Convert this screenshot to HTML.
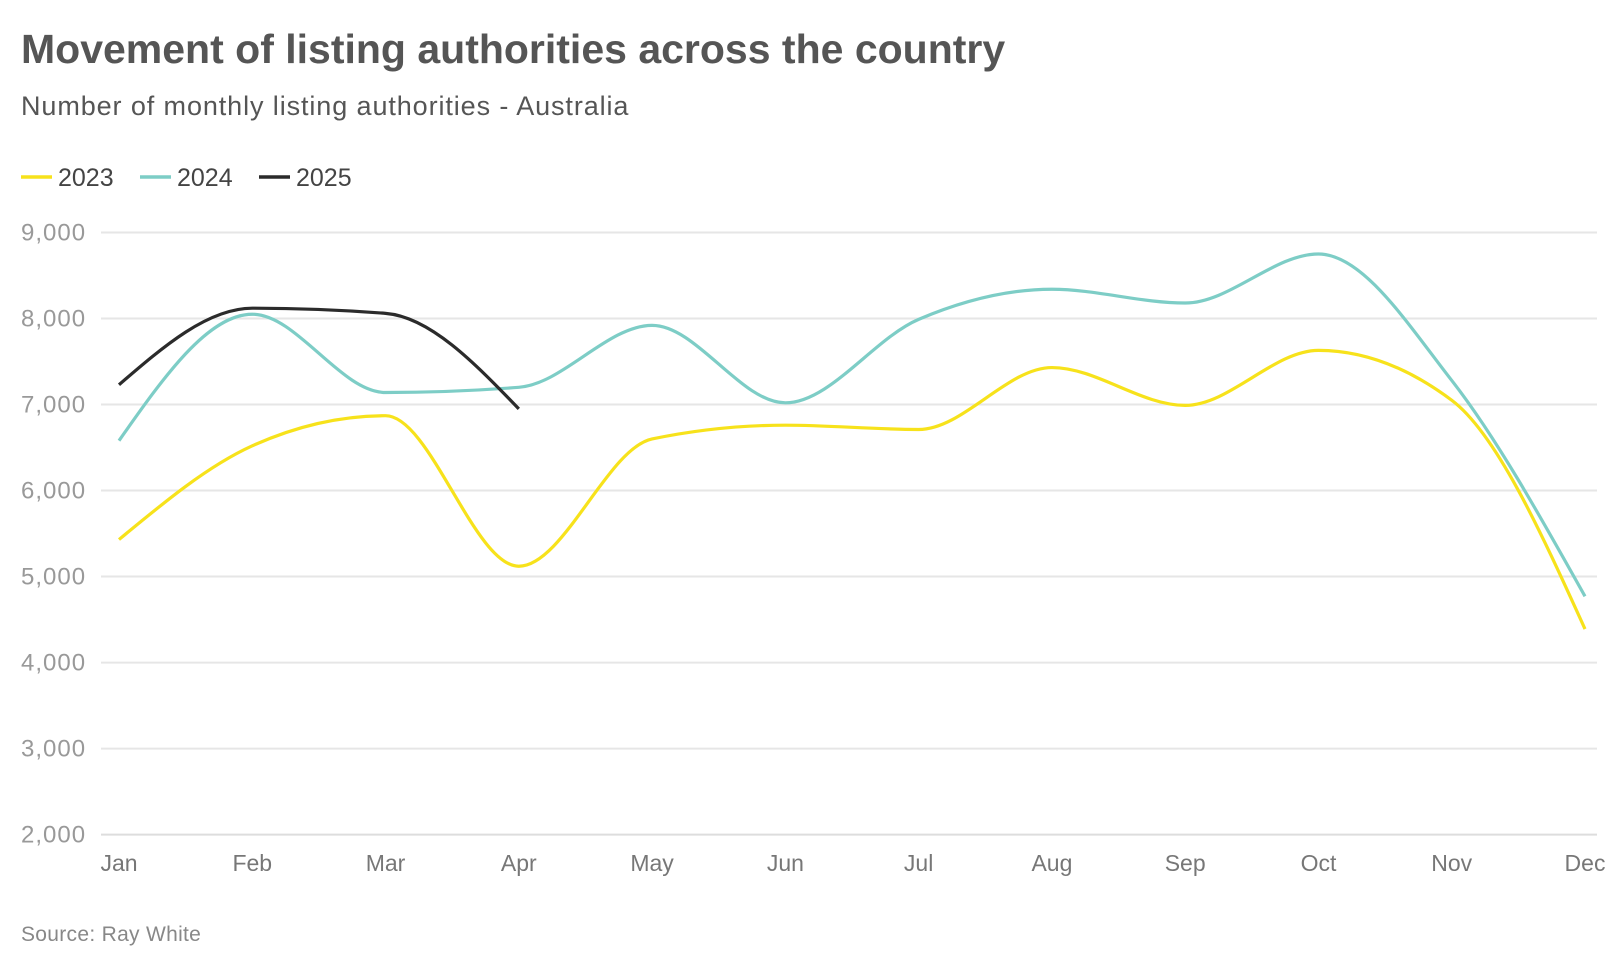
<!DOCTYPE html>
<html><head><meta charset="utf-8"><style>
body{margin:0;background:#fff;font-family:"Liberation Sans",sans-serif;}
#wrap{position:relative;width:1620px;height:962px;overflow:hidden;}
</style></head><body>
<div id="wrap">
<svg id="svg" width="1620" height="962">
<text x="21" y="63" font-size="41" font-weight="bold" fill="#555">Movement of listing authorities across the country</text>
<text x="21" y="115" font-size="27" letter-spacing="0.9" fill="#555">Number of monthly listing authorities - Australia</text>
<g id="legend"></g>
<g id="grid"></g>
<g id="lines"></g>
<text x="21" y="941" font-size="21" letter-spacing="0.3" fill="#888">Source: Ray White</text>
</svg>
</div>
<script>
const months=["Jan","Feb","Mar","Apr","May","Jun","Jul","Aug","Sep","Oct","Nov","Dec"];
const yTicks=[2000,3000,4000,5000,6000,7000,8000,9000];
const seriesNames=["2023","2024","2025"];
const s2023=[5430,6520,6870,5120,6600,6760,6710,7430,6990,7630,7050,4390];
const s2024=[6580,8050,7140,7200,7920,7020,7990,8340,8180,8750,7280,4770];
const s2025=[7230,8120,8060,6950];
const colors=["#f7e21b","#7dcdc6","#2b2b2b"];
const NS="http://www.w3.org/2000/svg";
const X0=119,X1=1585,Y0=834.6,Y1=232.5,YMIN=2000,YMAX=9000,GL=101,GR=1597;
const xs=i=>X0+(X1-X0)*i/11;
const ys=v=>Y0-(v-YMIN)/(YMAX-YMIN)*(Y0-Y1);
function mk(t,a,p){const e=document.createElementNS(NS,t);for(const k in a)e.setAttribute(k,a[k]);p.appendChild(e);return e;}
const grid=document.getElementById('grid');
yTicks.forEach(v=>{
 const l=mk('line',{x1:GL,x2:GR,y1:ys(v),y2:ys(v),stroke:v==2000?'#ddd':'#e6e6e6','stroke-width':2},grid);
 
 
 const t=mk('text',{x:21,y:ys(v)+8,'font-size':24,'letter-spacing':1,fill:'#999'},grid);
 t.textContent=v.toLocaleString('en-US');
 
 
});
months.forEach((m,i)=>{
 const t=mk('text',{x:xs(i),y:871,'font-size':23,fill:'#777','text-anchor':'middle'},grid);
 t.textContent=m;
 
 
});
function monoPath(pts){
 const n=pts.length;if(n<2)return'';
 const d=[],m=[];
 for(let i=0;i<n-1;i++)d.push((pts[i+1][1]-pts[i][1])/(pts[i+1][0]-pts[i][0]));
 m[0]=d[0];m[n-1]=d[n-2];
 for(let i=1;i<n-1;i++){ if(d[i-1]*d[i]<=0)m[i]=0; else {const h0=pts[i][0]-pts[i-1][0],h1=pts[i+1][0]-pts[i][0];const s=(d[i-1]*h1+d[i]*h0)/(h0+h1);m[i]=Math.sign(s)*Math.min(Math.abs(s),2*Math.abs(d[i-1]),2*Math.abs(d[i]));}}
 if(n>2){m[0]=(3*d[0]-m[1])/2;m[n-1]=(3*d[n-2]-m[n-2])/2;}
 let p='M'+pts[0][0]+','+pts[0][1];
 for(let i=0;i<n-1;i++){const h=(pts[i+1][0]-pts[i][0])/3;
  p+=' C'+(pts[i][0]+h)+','+(pts[i][1]+m[i]*h)+' '+(pts[i+1][0]-h)+','+(pts[i+1][1]-m[i+1]*h)+' '+pts[i+1][0]+','+pts[i+1][1];}
 return p;
}
const lines=document.getElementById('lines');
[s2023,s2024,s2025].forEach((s,k)=>{
 const p=mk('path',{d:monoPath(s.map((v,i)=>[xs(i),ys(v)])),fill:'none',stroke:colors[k],'stroke-width':3.2,'stroke-linejoin':'round'},lines);
 
 
});
const lg=document.getElementById('legend');
const lxs=[21,140,259];
seriesNames.forEach((n,k)=>{
 const x=lxs[k];
 const g=mk('g',{},lg);
 
 
 mk('line',{x1:x,x2:x+31,y1:177,y2:177,stroke:colors[k],'stroke-width':3.5},g);
 const t=mk('text',{x:x+37,y:186,'font-size':25,fill:'#444'},g);t.textContent=n;
});
</script>
</body></html>
